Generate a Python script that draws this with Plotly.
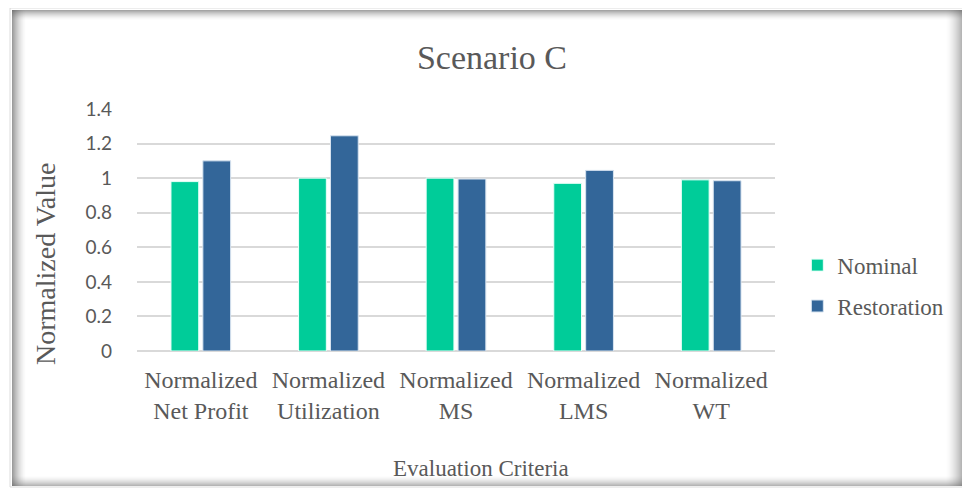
import plotly.graph_objects as go

categories = ["Normalized<br>Net Profit", "Normalized<br>Utilization", "Normalized<br>MS",
              "Normalized<br>LMS", "Normalized<br>WT"]
nominal = [0.98, 1.0, 1.0, 0.97, 0.99]
restoration = [1.10, 1.245, 0.995, 1.045, 0.985]
y_ticks = [0, 0.2, 0.4, 0.6, 0.8, 1, 1.2, 1.4]
y_tick_text = ["0", "0.2", "0.4", "0.6", "0.8", "1", "1.2", "1.4"]

OFF = 8  # page body margin
W, H = 970 - OFF, 488 - OFF
L, R, T, B = 137 - OFF, 775 - OFF, 109 - OFF, 351 - OFF

SERIF = "Liberation Serif"
TXT = "#595959"

fig = go.Figure()
fig.add_trace(go.Bar(name="Nominal", x=categories, y=nominal,
                     marker=dict(color="#00CC99", line=dict(color="#E8FFF8", width=1)),
                     legendgroup="a"))
fig.add_trace(go.Bar(name="Restoration", x=categories, y=restoration,
                     marker=dict(color="#336699", line=dict(color="#D8E4F0", width=1)),
                     legendgroup="b"))


def px(x):
    return (x - OFF - L) / (R - L)


def py(y):
    return (B - (y - OFF)) / (B - T)


shapes = []
# frame with inner shadow (reference pixel coords)
x0, y0, x1, y1 = 12, 10, 968, 486


def band(side, n, a0):
    for i in range(n):
        a = a0 * (1 - i / n) ** 1.6
        col = f"rgba(90,90,90,{a:.3f})"
        if side == "l":
            x = x0 + i + 0.5
            shapes.append(dict(type="line", xref="paper", yref="paper", x0=px(x), x1=px(x),
                               y0=py(y1), y1=py(y0), line=dict(color=col, width=1), layer="below"))
        elif side == "r":
            x = x1 - i - 0.5
            shapes.append(dict(type="line", xref="paper", yref="paper", x0=px(x), x1=px(x),
                               y0=py(y1), y1=py(y0), line=dict(color=col, width=1), layer="below"))
        elif side == "t":
            y = y0 + i + 0.5
            shapes.append(dict(type="line", xref="paper", yref="paper", x0=px(x0), x1=px(x1),
                               y0=py(y), y1=py(y), line=dict(color=col, width=1), layer="below"))
        else:
            y = y1 - i - 0.5
            shapes.append(dict(type="line", xref="paper", yref="paper", x0=px(x0), x1=px(x1),
                               y0=py(y), y1=py(y), line=dict(color=col, width=1), layer="below"))


band("l", 14, 0.6)
band("r", 22, 0.75)
band("t", 10, 0.55)
band("b", 10, 0.45)
# faint outer edge
shapes.append(dict(type="rect", xref="paper", yref="paper",
                   x0=px(x0 - 2), x1=px(x1 + 1), y0=py(y1 + 1), y1=py(y0 - 2),
                   line=dict(color="rgba(205,205,205,0.7)", width=1), layer="below"))

fig.update_layout(
    width=W, height=H,
    margin=dict(l=L, r=W - R, t=T, b=H - B),
    paper_bgcolor="white", plot_bgcolor="white",
    barmode="group", bargap=0.5, bargroupgap=0.13,
    title=dict(text="Scenario C", x=px(492), xanchor="center", xref="paper",
               y=1 - (57 - OFF) / H, yanchor="middle",
               font=dict(family=SERIF, size=34, color=TXT)),
    xaxis=dict(
        tickfont=dict(family=SERIF, size=24, color=TXT),
        showline=False, showgrid=False, ticks="", ticklabelstandoff=12,
    ),
    yaxis=dict(
        range=[0, 1.4], tickvals=y_ticks, ticktext=y_tick_text,
        tickfont=dict(family="Lato, Open Sans, sans-serif", size=19, color=TXT),
        showgrid=True, gridcolor="#D9D9D9", gridwidth=1.5,
        zeroline=True, zerolinecolor="#D9D9D9", zerolinewidth=1.5,
        showline=False, ticks="", ticklabelstandoff=24,
    ),
    legend=dict(x=1.035, y=0.27, xanchor="left", yanchor="middle",
                font=dict(family=SERIF, size=23, color=TXT),
                tracegroupgap=8, bgcolor="rgba(0,0,0,0)"),
    annotations=[
        dict(text="Normalized Value", textangle=-90, showarrow=False,
             xref="paper", yref="paper", x=px(45), y=py(264),
             xanchor="center", yanchor="middle",
             font=dict(family=SERIF, size=28, color=TXT)),
        dict(text="Evaluation Criteria", showarrow=False,
             xref="paper", yref="paper", x=px(481), y=py(468),
             xanchor="center", yanchor="middle",
             font=dict(family=SERIF, size=23, color=TXT)),
    ],
    shapes=shapes,
)

fig.write_html("out.html")
